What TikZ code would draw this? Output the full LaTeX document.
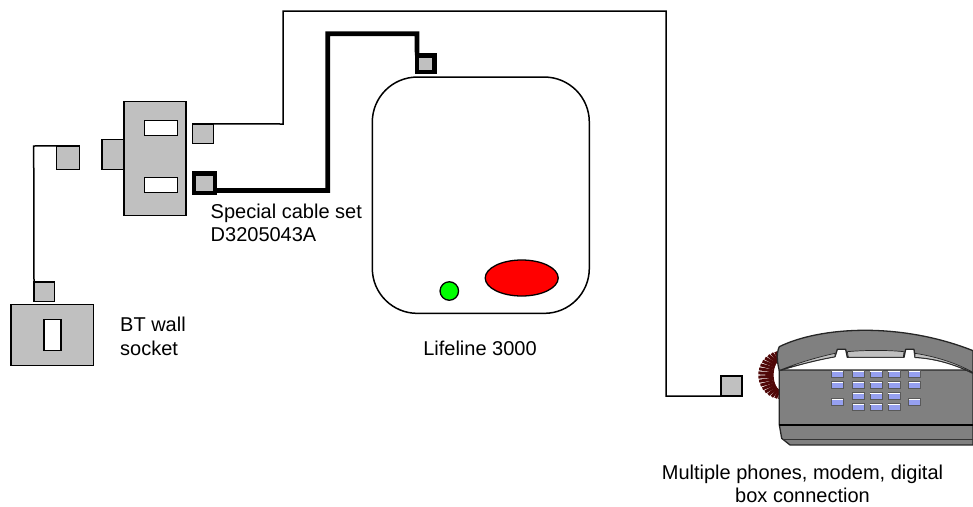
\documentclass[tikz,border=0pt]{standalone}
\usepackage{fontspec}
\setmainfont{Liberation Sans}
\definecolor{boxgrey}{RGB}{192,192,192}
\definecolor{phonegrey}{RGB}{128,128,128}
\definecolor{keyblue}{RGB}{150,160,240}
\definecolor{cordred}{RGB}{80,8,8}
\tikzset{
  grey box/.style={draw=black,fill=boxgrey,line width=1.5pt,inner sep=0pt,outer sep=0pt},
  slot/.style={draw=black,fill=white,line width=1.5pt,inner sep=0pt,outer sep=0pt},
  thin cable/.style={draw=black,line width=1.5pt,line join=miter},
  thick cable/.style={draw=black,line width=4.6pt,line join=miter},
  lab/.style={font=\fontsize{20}{23.5}\selectfont,inner sep=0pt,align=left},
  phone line/.style={draw=black!85,line width=1pt,line join=round},
  keycap/.style={draw=black!65,fill=keyblue,line width=.7pt,minimum width=12pt,minimum height=6.8pt,inner sep=0pt}
}
\begin{document}
\begin{tikzpicture}[x=1pt,y=-1pt]
\useasboundingbox (0,0) rectangle (973,506);
% adapter
\node[grey box,minimum width=22.5pt,minimum height=30pt] (stub) at (113,154.3) {};
\node[grey box,minimum width=61.7pt,minimum height=114.4pt] (adapter) at (154.9,158.5) {};
\node[slot,minimum width=33pt,minimum height=15.4pt] (slotA) at (160.8,128) {};
\node[slot,minimum width=33pt,minimum height=15.4pt] (slotB) at (160.8,185) {};
% plugs
\node[grey box,minimum width=20.6pt,minimum height=19.3pt] (plugUp) at (203,133.6) {};
\node[grey box,line width=4.6pt,minimum width=21pt,minimum height=19.6pt] (plugThick) at (204.5,183) {};
\node[grey box,minimum width=23pt,minimum height=23.3pt] (plugLeft) at (67.8,157.6) {};
\node[grey box,minimum width=20.3pt,minimum height=19.7pt] (plugWall) at (44.2,291.8) {};
\node[grey box,line width=4.2pt,minimum width=17.5pt,minimum height=16.8pt] (plugLife) at (425.8,63.8) {};
\node[grey box,minimum width=20.6pt,minimum height=20pt] (plugPhone) at (731.5,386) {};
% wall socket
\node[grey box,minimum width=82.3pt,minimum height=61pt] (wall) at (52.2,334.8) {};
\node[slot,minimum width=17.3pt,minimum height=31pt] (wallslot) at (52.4,334.8) {};
% Lifeline
\node[draw=black,fill=white,line width=1.5pt,rounded corners=45pt,minimum width=217pt,minimum height=236.3pt,inner sep=0pt] (life) at (480.8,195.2) {};
\node[circle,draw=black,fill=green,line width=1.3pt,minimum size=18.5pt,inner sep=0pt] (led) at (449.3,291) {};
\draw[black,fill=red,line width=1.3pt] (521.7,278) ellipse [x radius=36.5,y radius=18];
% cables
\coordinate (a1) at (283,124); \coordinate (a2) at (283,11); \coordinate (a3) at (666,11); \coordinate (a4) at (666,396);
\draw[thin cable] (plugUp.north east) -- (a1) -- (a2) -- (a3) -- (a4) -- (plugPhone.south west);
\coordinate (b1) at (327.7,190.5); \coordinate (b2) at (327.7,33.7); \coordinate (b3) at (417,33.7);
\draw[thick cable] (plugThick.south east |- b1) -- (b1) -- (b2) -- (b3) -- (plugLife.north west);
\coordinate (c1) at (33.7,146);
\draw[thin cable] (plugLeft.north west) -- (c1) -- (plugWall.south west);
% phone
\begin{scope}[shift={(740,320)},x=0.3333pt,y=-0.3333pt]
  % cord
  \foreach \a in {95,105,...,265}{
    \draw[cordred,line width=3pt] ({125+cos(\a)*24},{165-sin(\a)*46}) -- ({125+cos(\a)*70},{165-sin(\a)*72});
  }
  % body
  \filldraw[phone line,fill=phonegrey,line width=1.3pt]
    (118,150) -- (118,315) -- (125,355) -- (150,375) -- (699,375) -- (699,150) -- cycle;
  \draw[black,line width=1.2pt] (118,315) -- (699,315);
  \draw[black!80,line width=1.6pt] (128,358) -- (699,358);
  % handset
  \filldraw[phone line,fill=phonegrey,line width=1.3pt]
    (118,80) .. controls (240,20) and (480,5) .. (699,92)
    -- (699,160) .. controls (640,130) and (580,115) .. (525,112)
    -- (522,88) -- (497,88) -- (492,112) -- (322,112) -- (317,88) -- (292,88) -- (285,110)
    .. controls (230,120) and (170,135) .. (118,152)
    .. controls (112,130) and (108,100) .. (118,80) -- cycle;
  % cradle highlights
  \filldraw[phone line,fill=boxgrey,line width=.7pt] (322,95) .. controls (380,90) and (440,90) .. (492,95) -- (490,112) -- (325,112) -- cycle;
  \filldraw[phone line,fill=boxgrey,line width=.7pt] (122,150) .. controls (170,130) and (230,112) .. (285,100) -- (285,110) .. controls (230,120) and (170,135) .. (118,152) -- cycle;
  \filldraw[phone line,fill=boxgrey,line width=.7pt] (525,100) .. controls (590,110) and (650,130) .. (699,157) -- (699,160) .. controls (640,130) and (580,115) .. (525,112) -- cycle;
  % keys
  \foreach \x/\y in {292/162,355/162,408/162,462/162,523/162,
                     292/195,355/195,408/195,462/195,523/195,
                     355/228,408/228,462/228,
                     292/245,523/245,
                     355/260,408/260,462/260}{
    \node[keycap] (key\x\y) at (\x,\y) {};
    \draw[white,line width=.8pt] (\x-17,\y-8) -- (\x+17,\y-8);
  }
\end{scope}
% labels
\node[lab,anchor=north west] (t1) at (210.5,203.4) {Special cable set\\D3205043A};
\node[lab,anchor=north west] (t2) at (120,317) {BT wall\\socket};
\node[lab,anchor=base] (t3) at (480,355) {Lifeline 3000};
\node[lab,anchor=north,align=center] (t4) at (802.5,464.4) {Multiple phones, modem, digital\\box connection};
\end{tikzpicture}
\end{document}
